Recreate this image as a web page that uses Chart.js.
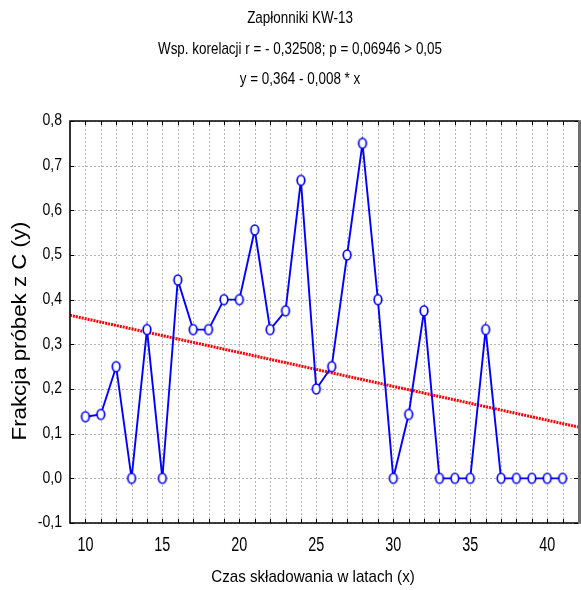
<!DOCTYPE html>
<html><head><meta charset="utf-8">
<script src="https://cdn.jsdelivr.net/npm/chart.js@4/dist/chart.umd.min.js"></script>
<style>html,body{margin:0;padding:0;background:#fff}#wrap{width:581px;height:590px}</style>
</head><body><div id="wrap"><canvas id="c" width="581" height="590"></canvas></div>
<script>
const years = [10,11,12,13,14,15,16,17,18,19,20,21,22,23,24,25,26,27,28,29,30,31,32,33,34,35,36,37,38,39,40,41];
const fraction = [0.138,0.143,0.25,0,0.333,0,0.444,0.333,0.333,0.4,0.4,0.556,0.333,0.375,0.667,0.2,0.25,0.5,0.75,0.4,0,0.143,0.375,0,0,0,0.333,0,0,0,0,0];
const fitX = [9, 42];
const fitY = [0.365, 0.115];
const titleLines = ['Zapłonniki KW-13','Wsp. korelacji r = - 0,32508; p = 0,06946 > 0,05','y = 0,364 - 0,008 * x'];
const xTitle = 'Czas składowania w latach (x)';
const yTitle = 'Frakcja próbek z C (y)';
const xLabelTicks = [10,15,20,25,30,35,40];
const yTickValues = [-0.1,0,0.1,0.2,0.3,0.4,0.5,0.6,0.7,0.8];

const FONT = '"Liberation Sans", Arial, sans-serif';

// elliptical open marker (picture is horizontally compressed)
const marker = document.createElement('canvas');
marker.width = 12; marker.height = 14;
(function(){
  const m = marker.getContext('2d');
  m.beginPath(); m.ellipse(6, 7, 3.8, 5, 0, 0, Math.PI * 2);
  m.fillStyle = '#fff'; m.fill();
  m.lineWidth = 1.7; m.strokeStyle = '#0000ff'; m.stroke();
})();

function txt(ctx, s, x, y, size, sx, sy, align, rot) {
  ctx.save();
  ctx.translate(x, y);
  if (rot) ctx.rotate(-Math.PI / 2);
  ctx.scale(sx, sy);
  ctx.font = size + 'px ' + FONT;
  ctx.fillStyle = '#000';
  ctx.textAlign = align || 'center';
  ctx.textBaseline = 'middle';
  ctx.fillText(s, 0, 0);
  ctx.restore();
}

const gridPlugin = {
  id: 'gridDots',
  beforeDatasetsDraw(chart) {
    const {ctx, chartArea: a, scales} = chart;
    ctx.save();
    ctx.strokeStyle = '#b4b4b4'; ctx.lineWidth = 1; ctx.setLineDash([2, 2]);
    for (let v = 10; v <= 41; v++) {
      const px = Math.round(scales.x.getPixelForValue(v)) + 0.5;
      ctx.beginPath(); ctx.moveTo(px, a.top); ctx.lineTo(px, a.bottom); ctx.stroke();
    }
    yTickValues.forEach(v => {
      const py = Math.round(scales.y.getPixelForValue(v)) + 0.5;
      ctx.beginPath(); ctx.moveTo(a.left, py); ctx.lineTo(a.right, py); ctx.stroke();
    });
    ctx.restore();
  }
};

const framePlugin = {
  id: 'frame',
  afterDraw(chart) {
    const {ctx, chartArea: a, scales} = chart;
    ctx.save();
    ctx.strokeStyle = '#000'; ctx.lineWidth = 1;
    for (let v = 10; v <= 41; v++) {
      const px = Math.round(scales.x.getPixelForValue(v)) + 0.5;
      ctx.beginPath(); ctx.moveTo(px, a.top); ctx.lineTo(px, a.top + 4); ctx.stroke();
      ctx.beginPath(); ctx.moveTo(px, a.bottom); ctx.lineTo(px, a.bottom - 4); ctx.stroke();
    }
    yTickValues.forEach(v => {
      const py = Math.round(scales.y.getPixelForValue(v)) + 0.5;
      ctx.beginPath(); ctx.moveTo(a.left, py); ctx.lineTo(a.left + 4, py); ctx.stroke();
      ctx.beginPath(); ctx.moveTo(a.right, py); ctx.lineTo(a.right - 4, py); ctx.stroke();
    });
    ctx.lineWidth = 1.6; ctx.strokeStyle = '#000';
    ctx.beginPath();
    ctx.moveTo(a.right + 1, a.top); ctx.lineTo(a.left, a.top); ctx.lineTo(a.left, a.bottom); ctx.lineTo(a.right + 1, a.bottom);
    ctx.stroke();
    ctx.lineWidth = 3; ctx.strokeStyle = '#6e6e6e';
    ctx.beginPath(); ctx.moveTo(a.right + 1.5, a.top - 0.8); ctx.lineTo(a.right + 1.5, a.bottom + 0.8); ctx.stroke();

    // tick labels
    xLabelTicks.forEach(v => txt(ctx, String(v), scales.x.getPixelForValue(v), a.bottom + 22, 20, 0.72, 1, 'center'));
    yTickValues.forEach(v => txt(ctx, v.toFixed(1).replace('.', ','), a.left - 8, scales.y.getPixelForValue(v), 16, 0.88, 1, 'right'));

    // titles
    const tY = [18, 49, 79];
    titleLines.forEach((s, i) => txt(ctx, s, 300, tY[i], 17, 0.79, 1, 'center'));
    txt(ctx, xTitle, 313, 577, 17, 0.89, 1, 'center');
    txt(ctx, yTitle, 20, 331, 21, 1.06, 1, 'center', true);
    ctx.restore();
  }
};

new Chart(document.getElementById('c'), {
  type: 'scatter',
  data: {
    datasets: [
      {
        data: fitX.map((x, i) => ({x, y: fitY[i]})),
        showLine: true, borderColor: '#ff0000', borderWidth: 3, borderDash: [2, 1],
        pointRadius: 0, order: 2
      },
      {
        data: years.map((x, i) => ({x, y: fraction[i]})),
        showLine: true, borderColor: '#0000ff', borderWidth: 1.9,
        pointStyle: marker, pointRadius: 5,
        order: 1
      }
    ]
  },
  options: {
    responsive: false, animation: false, devicePixelRatio: 1,
    layout: { autoPadding: false, padding: { left: 0, right: 3, top: 121, bottom: 0 } },
    plugins: { legend: { display: false }, tooltip: { enabled: false }, title: { display: false } },
    scales: {
      x: {
        type: 'linear', min: 9, max: 42,
        afterFit(s) { s.height = 67; s.paddingLeft = 0; s.paddingRight = 0; },
        ticks: { display: false, stepSize: 1 },
        grid: { display: false, drawTicks: false },
        border: { display: false },
        title: { display: false }
      },
      y: {
        min: -0.1, max: 0.8,
        afterFit(s) { s.width = 70; s.paddingTop = 0; s.paddingBottom = 0; },
        ticks: { display: false, stepSize: 0.1 },
        grid: { display: false, drawTicks: false },
        border: { display: false },
        title: { display: false }
      }
    }
  },
  plugins: [gridPlugin, framePlugin]
});
</script>
</body></html>
